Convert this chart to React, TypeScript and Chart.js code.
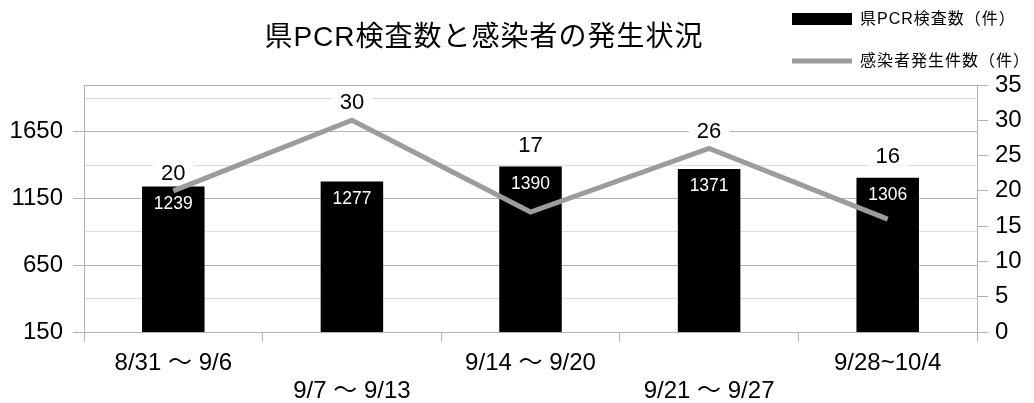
import React, { useEffect, useRef } from 'react';
import { Chart, registerables } from 'chart.js';

Chart.register(...registerables);

// ---- data ----
const categories = ['8/31 ～ 9/6', '9/7 ～ 9/13', '9/14 ～ 9/20', '9/21 ～ 9/27', '9/28~10/4'];
const pcrTests = [1239, 1277, 1390, 1371, 1306];
const newCases = [20, 30, 17, 26, 16];
const leftTickLabels = [150, 650, 1150, 1650];
const leftMin = 150;
const leftMax = 2000;
const leftMinorStep = 250;
const rightMin = 0;
const rightMax = 35;
const rightStep = 5;
const titleText = '県PCR検査数と感染者の発生状況';
const barSeriesName = '県PCR検査数（件）';
const lineSeriesName = '感染者発生件数（件）';

const FONT = '"Liberation Sans", "Noto Sans CJK JP", sans-serif';
const GRID_MAJOR = '#b3b3b3';
const GRID_MINOR = '#dddddd';
const LINE_COLOR = '#9c9c9c';

const leftGridValues: number[] = [];
for (let v = leftMin; v <= leftMax; v += leftMinorStep) leftGridValues.push(v);
if (leftGridValues[leftGridValues.length - 1] !== leftMax) leftGridValues.push(leftMax);

const overlayPlugin = {
  id: 'overlay',
  beforeDatasetsDraw(chart: any) {
    const ctx = chart.ctx;
    const barMeta = chart.getDatasetMeta(0);
    const lineMeta = chart.getDatasetMeta(1);
    ctx.save();
    ctx.font = `22px ${FONT}`;
    ctx.textAlign = 'center';
    ctx.textBaseline = 'middle';
    lineMeta.data.forEach((pt: any, i: number) => {
      const bar = barMeta.data[i];
      const inside = pt.y - bar.y;
      const y = inside > 10 ? bar.y - 22 : pt.y - 18;
      const text = String(chart.data.datasets[1].data[i]);
      const w = ctx.measureText(text).width;
      ctx.fillStyle = '#ffffff';
      ctx.fillRect(pt.x - w / 2 - 8, y - 10, w + 16, 20);
      ctx.fillStyle = '#000000';
      ctx.fillText(text, pt.x, y + 1);
    });
    ctx.restore();
  },
  afterDatasetsDraw(chart: any) {
    const ctx = chart.ctx;
    const barMeta = chart.getDatasetMeta(0);
    ctx.save();
    ctx.font = `17.5px ${FONT}`;
    ctx.textAlign = 'center';
    ctx.textBaseline = 'middle';
    ctx.fillStyle = '#ffffff';
    barMeta.data.forEach((bar: any, i: number) => {
      ctx.fillText(String(chart.data.datasets[0].data[i]), bar.x, bar.y + 17.5);
    });
    ctx.restore();
  },
  afterDraw(chart: any) {
    const ctx = chart.ctx;
    ctx.save();
    // title
    ctx.font = `28px ${FONT}`;
    if ('letterSpacing' in ctx) (ctx as any).letterSpacing = '1px';
    ctx.textAlign = 'center';
    ctx.textBaseline = 'middle';
    ctx.fillStyle = '#000000';
    ctx.fillText(titleText, 484, 38);
    // legend
    const ds = chart.data.datasets;
    ctx.font = `16px ${FONT}`;
    if ('letterSpacing' in ctx) (ctx as any).letterSpacing = '1px';
    ctx.textAlign = 'left';
    ctx.fillStyle = ds[0].backgroundColor;
    ctx.fillRect(792, 13, 60, 12);
    ctx.fillStyle = '#000000';
    ctx.fillText(ds[0].label, 860, 20);
    ctx.strokeStyle = ds[1].borderColor;
    ctx.lineWidth = 5;
    ctx.beginPath();
    ctx.moveTo(792, 61);
    ctx.lineTo(852, 61);
    ctx.stroke();
    ctx.fillText(ds[1].label, 860, 62);
    ctx.restore();
  },
};

export default function App() {
  const canvasRef = useRef<HTMLCanvasElement | null>(null);

  useEffect(() => {
    if (!canvasRef.current) return;
    const chart = new Chart(canvasRef.current, {
      type: 'bar',
      data: {
        labels: categories,
        datasets: [
          {
            type: 'bar',
            label: barSeriesName,
            data: pcrTests,
            backgroundColor: '#000000',
            yAxisID: 'y',
            barPercentage: 0.35,
            categoryPercentage: 1,
            order: 1,
          },
          {
            type: 'line',
            label: lineSeriesName,
            data: newCases,
            borderColor: LINE_COLOR,
            backgroundColor: LINE_COLOR,
            borderWidth: 5,
            pointRadius: 0,
            tension: 0,
            borderCapStyle: 'butt',
            borderJoinStyle: 'miter',
            yAxisID: 'y1',
            order: 0,
          } as any,
        ],
      },
      options: {
        animation: false,
        responsive: true,
        maintainAspectRatio: false,
        events: [],
        layout: { padding: { top: 85, left: 0, right: 0, bottom: 0 } },
        plugins: {
          legend: { display: false },
          title: { display: false },
          tooltip: { enabled: false },
        },
        scales: {
          x: {
            offset: true,
            afterFit: (scale: any) => {
              scale.height = 71;
            },
            grid: {
              offset: true,
              drawOnChartArea: false,
              drawTicks: true,
              tickLength: 10,
              color: GRID_MAJOR,
            },
            border: { color: GRID_MAJOR },
            ticks: {
              autoSkip: false,
              maxRotation: 0,
              minRotation: 0,
              padding: 8,
              color: '#000000',
              font: { family: FONT, size: 24, lineHeight: 1.15 },
              callback: (_v: any, index: number) => {
                const l = categories[index];
                return index % 2 === 0 ? [l, ''] : ['', l];
              },
            },
          },
          y: {
            position: 'left',
            min: leftMin,
            max: leftMax,
            afterBuildTicks: (scale: any) => {
              scale.ticks = leftGridValues.map((v) => ({ value: v }));
            },
            afterFit: (scale: any) => {
              scale.width = 84;
            },
            grid: {
              color: (c: any) => {
                const v = c.tick ? c.tick.value : 0;
                return v === leftMax || leftTickLabels.includes(v) ? GRID_MAJOR : GRID_MINOR;
              },
              tickColor: (c: any) => {
                const v = c.tick ? c.tick.value : 0;
                return leftTickLabels.includes(v) ? GRID_MAJOR : 'rgba(0,0,0,0)';
              },
              tickLength: 11,
              lineWidth: 1,
            },
            border: { color: GRID_MAJOR },
            ticks: {
              autoSkip: false,
              padding: 10,
              color: '#000000',
              font: { family: FONT, size: 24 },
              callback: (v: any) => (leftTickLabels.includes(v) ? String(v) : ''),
            },
          },
          y1: {
            position: 'right',
            min: rightMin,
            max: rightMax,
            afterFit: (scale: any) => {
              scale.width = 57;
            },
            grid: {
              drawOnChartArea: false,
              tickLength: 11,
              tickColor: GRID_MAJOR,
            },
            border: { color: GRID_MAJOR },
            ticks: {
              stepSize: rightStep,
              padding: 7,
              color: '#000000',
              font: { family: FONT, size: 24 },
            },
          },
        },
      },
      plugins: [overlayPlugin],
    } as any);
    return () => chart.destroy();
  }, []);

  return (
    <div style={{ position: 'fixed', left: 0, top: 0, width: 1034, height: 403, background: '#ffffff' }}>
      <canvas ref={canvasRef} />
    </div>
  );
}
